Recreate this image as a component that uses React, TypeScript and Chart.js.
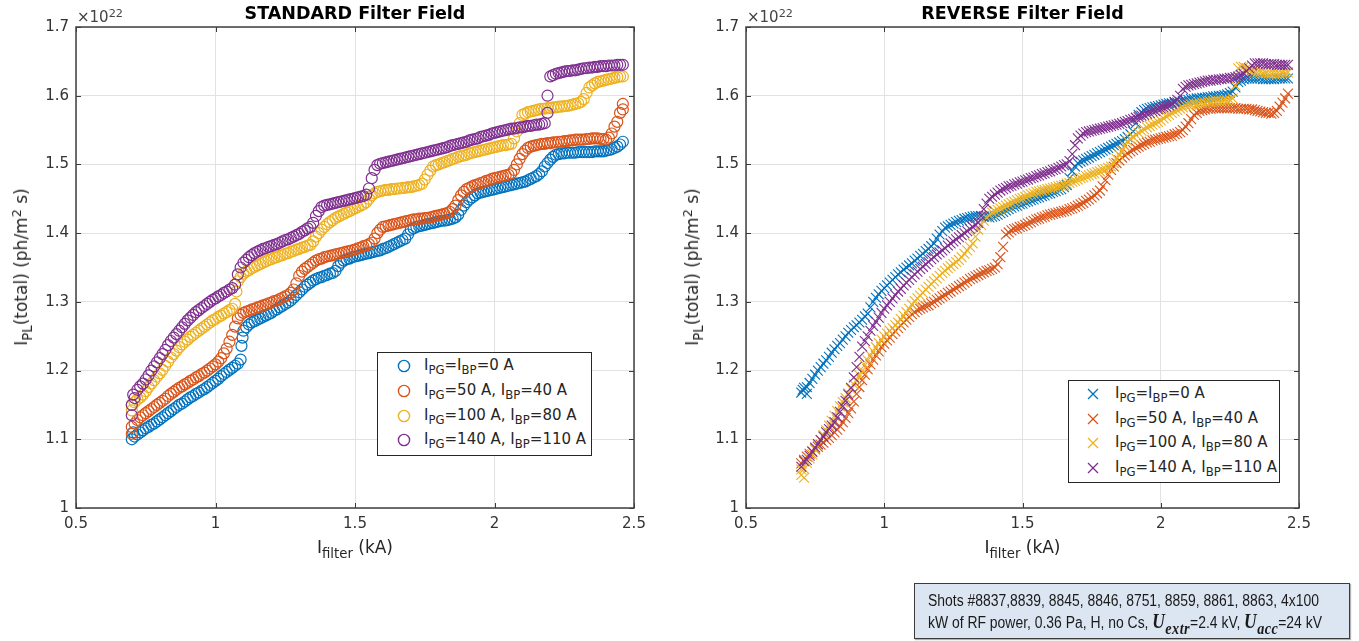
import React, { useEffect, useRef } from 'react';
import { Chart, registerables } from 'chart.js';

Chart.register(...registerables);

// ---------- shared x grid (filter current, kA) ----------
const xGrid = [
  0.70, 0.71, 0.72, 0.73, 0.74, 0.75, 0.76, 0.77, 0.78, 0.79,
  0.80, 0.81, 0.82, 0.83, 0.84, 0.85, 0.86, 0.87, 0.88, 0.89,
  0.90, 0.91, 0.92, 0.93, 0.94, 0.95, 0.96, 0.97, 0.98, 0.99,
  1.00, 1.01, 1.02, 1.03, 1.04, 1.05, 1.06, 1.07, 1.08, 1.09,
  1.10, 1.11, 1.12, 1.13, 1.14, 1.15, 1.16, 1.17, 1.18, 1.19,
  1.20, 1.21, 1.22, 1.23, 1.24, 1.25, 1.26, 1.27, 1.28, 1.29,
  1.30, 1.31, 1.32, 1.33, 1.34, 1.35, 1.36, 1.37, 1.38, 1.39,
  1.40, 1.41, 1.42, 1.43, 1.44, 1.45, 1.46, 1.47, 1.48, 1.49,
  1.50, 1.51, 1.52, 1.53, 1.54, 1.55, 1.56, 1.57, 1.58, 1.59,
  1.60, 1.61, 1.62, 1.63, 1.64, 1.65, 1.66, 1.67, 1.68, 1.69,
  1.70, 1.71, 1.72, 1.73, 1.74, 1.75, 1.76, 1.77, 1.78, 1.79,
  1.80, 1.81, 1.82, 1.83, 1.84, 1.85, 1.86, 1.87, 1.88, 1.89,
  1.90, 1.91, 1.92, 1.93, 1.94, 1.95, 1.96, 1.97, 1.98, 1.99,
  2.00, 2.01, 2.02, 2.03, 2.04, 2.05, 2.06, 2.07, 2.08, 2.09,
  2.10, 2.11, 2.12, 2.13, 2.14, 2.15, 2.16, 2.17, 2.18, 2.19,
  2.20, 2.21, 2.22, 2.23, 2.24, 2.25, 2.26, 2.27, 2.28, 2.29,
  2.30, 2.31, 2.32, 2.33, 2.34, 2.35, 2.36, 2.37, 2.38, 2.39,
  2.40, 2.41, 2.42, 2.43, 2.44, 2.45, 2.46,
];

// ---------- STANDARD filter field (x10^22 ph/m^2 s) ----------
const stdBlueY = [
  1.100, 1.104, 1.107, 1.110, 1.113, 1.116, 1.118, 1.121, 1.123, 1.126,
  1.129, 1.132, 1.135, 1.138, 1.141, 1.144, 1.147, 1.150, 1.152, 1.155,
  1.158, 1.161, 1.163, 1.166, 1.168, 1.171, 1.173, 1.176, 1.179, 1.182,
  1.185, 1.188, 1.192, 1.195, 1.198, 1.201, 1.204, 1.207, 1.210, 1.216,
  1.258, 1.263, 1.267, 1.270, 1.272, 1.274, 1.276, 1.278, 1.280, 1.282,
  1.284, 1.287, 1.289, 1.292, 1.294, 1.297, 1.299, 1.302, 1.306, 1.310,
  1.314, 1.318, 1.322, 1.325, 1.328, 1.331, 1.333, 1.335, 1.336, 1.338,
  1.339, 1.341, 1.342, 1.345, 1.352, 1.357, 1.360, 1.362, 1.363, 1.365,
  1.366, 1.367, 1.368, 1.369, 1.370, 1.371, 1.372, 1.373, 1.374, 1.375,
  1.377, 1.378, 1.380, 1.382, 1.384, 1.386, 1.388, 1.390, 1.392, 1.398,
  1.405, 1.407, 1.409, 1.410, 1.411, 1.412, 1.413, 1.414, 1.415, 1.416,
  1.417, 1.418, 1.418, 1.419, 1.420, 1.421, 1.423, 1.427, 1.434, 1.440,
  1.445, 1.449, 1.452, 1.455, 1.458, 1.459, 1.460, 1.461, 1.462, 1.463,
  1.464, 1.465, 1.466, 1.467, 1.468, 1.469, 1.470, 1.471, 1.472, 1.473,
  1.474, 1.475, 1.477, 1.479, 1.481, 1.483, 1.486, 1.490, 1.497, 1.502,
  1.507, 1.511, 1.514, 1.515, 1.516, 1.516, 1.517, 1.517, 1.517, 1.517,
  1.518, 1.518, 1.518, 1.518, 1.518, 1.518, 1.519, 1.519, 1.519, 1.519,
  1.520, 1.521, 1.522, 1.524, 1.526, 1.529, 1.533,
];
const stdBlueExtraX = [0.705, 1.093, 1.097];
const stdBlueExtraY = [1.110, 1.236, 1.248];

const stdOrangeY = [
  1.118, 1.123, 1.128, 1.132, 1.135, 1.138, 1.141, 1.144, 1.147, 1.150,
  1.153, 1.156, 1.159, 1.163, 1.166, 1.169, 1.172, 1.175, 1.177, 1.180,
  1.182, 1.185, 1.187, 1.190, 1.192, 1.195, 1.197, 1.200, 1.203, 1.206,
  1.209, 1.213, 1.218, 1.225, 1.232, 1.242, 1.252, 1.264, 1.276, 1.281,
  1.284, 1.286, 1.287, 1.289, 1.290, 1.292, 1.293, 1.295, 1.296, 1.298,
  1.299, 1.301, 1.302, 1.304, 1.306, 1.308, 1.310, 1.313, 1.318, 1.327,
  1.338, 1.344, 1.348, 1.351, 1.354, 1.357, 1.360, 1.362, 1.363, 1.365,
  1.366, 1.367, 1.368, 1.369, 1.370, 1.371, 1.372, 1.373, 1.374, 1.375,
  1.376, 1.378, 1.379, 1.381, 1.382, 1.384, 1.386, 1.392, 1.400, 1.405,
  1.409, 1.410, 1.411, 1.412, 1.413, 1.414, 1.415, 1.416, 1.417, 1.418,
  1.419, 1.420, 1.420, 1.421, 1.421, 1.422, 1.422, 1.423, 1.424, 1.425,
  1.426, 1.427, 1.428, 1.429, 1.431, 1.435, 1.440, 1.448, 1.455, 1.460,
  1.464, 1.466, 1.468, 1.470, 1.471, 1.473, 1.474, 1.476, 1.477, 1.479,
  1.480, 1.481, 1.482, 1.483, 1.484, 1.485, 1.487, 1.492, 1.500, 1.508,
  1.515, 1.520, 1.524, 1.526, 1.527, 1.528, 1.529, 1.530, 1.530, 1.531,
  1.531, 1.532, 1.532, 1.533, 1.533, 1.534, 1.534, 1.535, 1.535, 1.536,
  1.536, 1.536, 1.536, 1.537, 1.537, 1.538, 1.538, 1.538, 1.537, 1.537,
  1.536, 1.539, 1.545, 1.555, 1.562, 1.575, 1.588,
];
const stdOrangeExtraX = [0.70, 2.46];
const stdOrangeExtraY = [1.108, 1.580];

const stdYellowY = [
  1.150, 1.154, 1.158, 1.161, 1.165, 1.170, 1.176, 1.181, 1.186, 1.191,
  1.196, 1.201, 1.207, 1.213, 1.219, 1.224, 1.229, 1.234, 1.238, 1.242,
  1.245, 1.249, 1.252, 1.255, 1.258, 1.261, 1.264, 1.267, 1.270, 1.273,
  1.275, 1.278, 1.280, 1.283, 1.285, 1.288, 1.290, 1.297, 1.330, 1.336,
  1.341, 1.344, 1.346, 1.349, 1.351, 1.353, 1.355, 1.357, 1.359, 1.361,
  1.362, 1.364, 1.365, 1.367, 1.368, 1.370, 1.371, 1.373, 1.374, 1.376,
  1.377, 1.379, 1.380, 1.382, 1.383, 1.388, 1.395, 1.400, 1.405, 1.409,
  1.413, 1.416, 1.419, 1.422, 1.424, 1.426, 1.428, 1.430, 1.432, 1.434,
  1.436, 1.438, 1.440, 1.442, 1.445, 1.450, 1.455, 1.458, 1.460, 1.461,
  1.462, 1.463, 1.463, 1.464, 1.464, 1.465, 1.465, 1.466, 1.466, 1.467,
  1.467, 1.468, 1.469, 1.470, 1.472, 1.478, 1.485, 1.491, 1.497, 1.499,
  1.500, 1.502, 1.503, 1.505, 1.506, 1.508, 1.509, 1.511, 1.512, 1.513,
  1.514, 1.516, 1.517, 1.518, 1.519, 1.520, 1.521, 1.522, 1.523, 1.524,
  1.525, 1.526, 1.527, 1.528, 1.528, 1.529, 1.530, 1.538, 1.548, 1.560,
  1.572, 1.574, 1.576, 1.577, 1.578, 1.579, 1.580, 1.581, 1.581, 1.582,
  1.582, 1.583, 1.583, 1.584, 1.584, 1.585, 1.585, 1.586, 1.587, 1.588,
  1.589, 1.591, 1.595, 1.604, 1.612, 1.615, 1.618, 1.620, 1.621, 1.622,
  1.623, 1.624, 1.625, 1.626, 1.627, 1.628, 1.628,
];
const stdYellowExtraX = [0.70, 1.075];
const stdYellowExtraY = [1.142, 1.315];

const stdPurpleY = [
  1.135, 1.160, 1.172, 1.177, 1.181, 1.187, 1.193, 1.200, 1.206, 1.212,
  1.218, 1.224, 1.230, 1.237, 1.243, 1.248, 1.253, 1.258, 1.263, 1.268,
  1.273, 1.277, 1.281, 1.285, 1.288, 1.291, 1.294, 1.297, 1.300, 1.303,
  1.305, 1.308, 1.310, 1.313, 1.315, 1.318, 1.320, 1.325, 1.340, 1.350,
  1.357, 1.361, 1.365, 1.368, 1.371, 1.373, 1.375, 1.377, 1.378, 1.380,
  1.381, 1.383, 1.384, 1.386, 1.388, 1.390, 1.391, 1.393, 1.395, 1.397,
  1.399, 1.402, 1.404, 1.407, 1.409, 1.415, 1.425, 1.432, 1.438, 1.440,
  1.441, 1.442, 1.443, 1.444, 1.445, 1.446, 1.447, 1.448, 1.449, 1.450,
  1.451, 1.452, 1.453, 1.454, 1.456, 1.465, 1.480, 1.492, 1.499, 1.501,
  1.502, 1.503, 1.504, 1.505, 1.506, 1.507, 1.508, 1.509, 1.510, 1.511,
  1.512, 1.513, 1.514, 1.515, 1.516, 1.517, 1.518, 1.519, 1.520, 1.521,
  1.522, 1.523, 1.524, 1.525, 1.527, 1.528, 1.529, 1.530, 1.531, 1.532,
  1.533, 1.535, 1.536, 1.537, 1.538, 1.540, 1.541, 1.542, 1.543, 1.545,
  1.546, 1.547, 1.548, 1.549, 1.550, 1.551, 1.552, 1.552, 1.553, 1.554,
  1.554, 1.555, 1.556, 1.556, 1.557, 1.558, 1.558, 1.559, 1.560, 1.575,
  1.628, 1.630, 1.632, 1.633, 1.634, 1.635, 1.636, 1.636, 1.637, 1.637,
  1.638, 1.639, 1.640, 1.640, 1.641, 1.641, 1.642, 1.642, 1.643, 1.643,
  1.643, 1.644, 1.644, 1.644, 1.645, 1.645, 1.645,
];
const stdPurpleExtraX = [0.70, 0.705, 2.19];
const stdPurpleExtraY = [1.150, 1.165, 1.600];

// ---------- REVERSE filter field ----------
const revBlueY = [
  1.168, 1.175, 1.176, 1.182, 1.188, 1.194, 1.200, 1.205, 1.210, 1.215,
  1.220, 1.226, 1.231, 1.236, 1.240, 1.245, 1.250, 1.255, 1.259, 1.263,
  1.266, 1.270, 1.274, 1.279, 1.283, 1.292, 1.300, 1.306, 1.311, 1.316,
  1.320, 1.324, 1.328, 1.332, 1.336, 1.340, 1.343, 1.347, 1.350, 1.353,
  1.356, 1.360, 1.363, 1.367, 1.370, 1.374, 1.377, 1.381, 1.385, 1.392,
  1.398, 1.403, 1.408, 1.410, 1.412, 1.414, 1.416, 1.418, 1.419, 1.421,
  1.422, 1.423, 1.424, 1.425, 1.425, 1.425, 1.424, 1.424, 1.423, 1.424,
  1.425, 1.427, 1.429, 1.431, 1.433, 1.435, 1.437, 1.439, 1.440, 1.442,
  1.443, 1.445, 1.446, 1.448, 1.449, 1.451, 1.452, 1.454, 1.455, 1.457,
  1.458, 1.460, 1.461, 1.463, 1.464, 1.467, 1.470, 1.480, 1.490, 1.497,
  1.502, 1.504, 1.506, 1.508, 1.510, 1.512, 1.514, 1.516, 1.518, 1.520,
  1.522, 1.524, 1.526, 1.528, 1.530, 1.532, 1.534, 1.537, 1.540, 1.544,
  1.548, 1.560, 1.572, 1.576, 1.579, 1.581, 1.582, 1.583, 1.584, 1.585,
  1.586, 1.587, 1.588, 1.589, 1.589, 1.590, 1.590, 1.591, 1.592, 1.593,
  1.594, 1.595, 1.595, 1.596, 1.596, 1.597, 1.597, 1.598, 1.598, 1.599,
  1.599, 1.600, 1.600, 1.601, 1.602, 1.604, 1.606, 1.612, 1.620, 1.622,
  1.624, 1.625, 1.625, 1.625, 1.625, 1.625, 1.625, 1.624, 1.624, 1.624,
  1.624, 1.624, 1.625, 1.625, 1.625, 1.625, 1.625,
];
const revBlueExtraX = [0.705, 0.72];
const revBlueExtraY = [1.172, 1.166];

const revOrangeY = [
  1.065, 1.070, 1.075, 1.079, 1.082, 1.086, 1.089, 1.092, 1.095, 1.099,
  1.102, 1.106, 1.110, 1.114, 1.119, 1.125, 1.131, 1.138, 1.145, 1.155,
  1.166, 1.176, 1.186, 1.194, 1.202, 1.209, 1.216, 1.222, 1.228, 1.234,
  1.239, 1.244, 1.248, 1.253, 1.257, 1.262, 1.266, 1.270, 1.274, 1.278,
  1.282, 1.285, 1.288, 1.290, 1.292, 1.294, 1.295, 1.298, 1.300, 1.303,
  1.305, 1.308, 1.310, 1.313, 1.315, 1.318, 1.320, 1.323, 1.325, 1.328,
  1.330, 1.333, 1.335, 1.337, 1.339, 1.341, 1.343, 1.345, 1.346, 1.348,
  1.350, 1.355, 1.365, 1.380, 1.398, 1.401, 1.404, 1.406, 1.407, 1.409,
  1.410, 1.412, 1.414, 1.416, 1.418, 1.420, 1.421, 1.423, 1.424, 1.426,
  1.427, 1.428, 1.429, 1.430, 1.431, 1.432, 1.433, 1.435, 1.436, 1.438,
  1.440, 1.442, 1.444, 1.447, 1.449, 1.452, 1.455, 1.458, 1.462, 1.468,
  1.477, 1.485, 1.492, 1.497, 1.502, 1.506, 1.510, 1.513, 1.516, 1.519,
  1.521, 1.524, 1.526, 1.528, 1.530, 1.532, 1.533, 1.535, 1.536, 1.537,
  1.538, 1.539, 1.540, 1.541, 1.542, 1.544, 1.545, 1.547, 1.550, 1.555,
  1.560, 1.566, 1.572, 1.575, 1.578, 1.579, 1.580, 1.581, 1.581, 1.582,
  1.582, 1.582, 1.582, 1.582, 1.582, 1.582, 1.582, 1.582, 1.581, 1.581,
  1.581, 1.581, 1.580, 1.580, 1.579, 1.578, 1.577, 1.576, 1.575, 1.575,
  1.574, 1.575, 1.578, 1.584, 1.590, 1.596, 1.603,
];

const revYellowY = [
  1.048, 1.057, 1.066, 1.072, 1.078, 1.085, 1.091, 1.099, 1.106, 1.113,
  1.120, 1.127, 1.134, 1.141, 1.148, 1.154, 1.160, 1.167, 1.173, 1.180,
  1.186, 1.193, 1.200, 1.208, 1.215, 1.222, 1.228, 1.234, 1.240, 1.245,
  1.250, 1.254, 1.258, 1.262, 1.266, 1.270, 1.275, 1.280, 1.285, 1.290,
  1.296, 1.301, 1.305, 1.309, 1.313, 1.318, 1.322, 1.326, 1.330, 1.334,
  1.338, 1.342, 1.345, 1.349, 1.352, 1.355, 1.358, 1.361, 1.365, 1.370,
  1.375, 1.380, 1.385, 1.395, 1.405, 1.412, 1.418, 1.423, 1.427, 1.430,
  1.432, 1.434, 1.436, 1.438, 1.440, 1.442, 1.444, 1.446, 1.448, 1.450,
  1.451, 1.453, 1.455, 1.457, 1.458, 1.460, 1.461, 1.462, 1.463, 1.464,
  1.465, 1.466, 1.467, 1.468, 1.469, 1.470, 1.472, 1.473, 1.475, 1.476,
  1.478, 1.480, 1.481, 1.483, 1.484, 1.486, 1.487, 1.489, 1.490, 1.492,
  1.493, 1.495, 1.497, 1.502, 1.508, 1.514, 1.520, 1.527, 1.534, 1.537,
  1.540, 1.543, 1.546, 1.549, 1.551, 1.554, 1.556, 1.558, 1.560, 1.562,
  1.564, 1.567, 1.570, 1.572, 1.575, 1.577, 1.579, 1.581, 1.583, 1.585,
  1.586, 1.587, 1.588, 1.588, 1.589, 1.590, 1.590, 1.591, 1.591, 1.592,
  1.592, 1.592, 1.592, 1.593, 1.593, 1.594, 1.596, 1.615, 1.640, 1.642,
  1.642, 1.640, 1.638, 1.636, 1.635, 1.634, 1.634, 1.633, 1.633, 1.632,
  1.632, 1.632, 1.632, 1.632, 1.633, 1.633, 1.634,
];
const revYellowExtraX = [0.70, 0.71];
const revYellowExtraY = [1.056, 1.044];

const revPurpleY = [
  1.060, 1.068, 1.070, 1.076, 1.082, 1.088, 1.093, 1.099, 1.104, 1.110,
  1.115, 1.120, 1.125, 1.132, 1.140, 1.148, 1.156, 1.165, 1.175, 1.190,
  1.205, 1.220, 1.235, 1.243, 1.250, 1.258, 1.265, 1.271, 1.277, 1.284,
  1.290, 1.295, 1.300, 1.305, 1.310, 1.315, 1.319, 1.324, 1.328, 1.332,
  1.336, 1.340, 1.344, 1.348, 1.351, 1.355, 1.358, 1.362, 1.365, 1.369,
  1.372, 1.375, 1.378, 1.382, 1.385, 1.388, 1.391, 1.394, 1.397, 1.400,
  1.403, 1.406, 1.409, 1.412, 1.415, 1.425, 1.435, 1.443, 1.450, 1.453,
  1.456, 1.459, 1.462, 1.464, 1.466, 1.468, 1.469, 1.471, 1.472, 1.474,
  1.475, 1.477, 1.478, 1.480, 1.481, 1.483, 1.484, 1.486, 1.487, 1.489,
  1.490, 1.492, 1.493, 1.495, 1.497, 1.499, 1.500, 1.505, 1.515, 1.528,
  1.538, 1.542, 1.545, 1.547, 1.548, 1.549, 1.550, 1.551, 1.552, 1.553,
  1.554, 1.555, 1.556, 1.557, 1.558, 1.559, 1.560, 1.562, 1.563, 1.565,
  1.566, 1.568, 1.569, 1.571, 1.572, 1.574, 1.575, 1.577, 1.578, 1.580,
  1.581, 1.583, 1.584, 1.586, 1.588, 1.591, 1.594, 1.600, 1.610, 1.613,
  1.615, 1.616, 1.617, 1.618, 1.619, 1.620, 1.621, 1.622, 1.622, 1.623,
  1.623, 1.624, 1.624, 1.625, 1.625, 1.626, 1.626, 1.627, 1.628, 1.630,
  1.632, 1.636, 1.640, 1.644, 1.647, 1.647, 1.647, 1.647, 1.646, 1.646,
  1.646, 1.646, 1.645, 1.645, 1.645, 1.645, 1.645,
];

const noExtra: number[] = [];

// ---------- axes ----------
const xTickValues = [0.5, 1, 1.5, 2, 2.5];
const yTickValues = [1, 1.1, 1.2, 1.3, 1.4, 1.5, 1.6, 1.7];

const COLORS = ['#0072BD', '#D95319', '#EDB120', '#7E2F8E'];

function pts(ys: number[], exX: number[], exY: number[]) {
  const out = xGrid.map((x, i) => ({ x, y: ys[i] }));
  exX.forEach((x, i) => out.push({ x, y: exY[i] }));
  return out;
}

const stdSeries = [
  pts(stdBlueY, stdBlueExtraX, stdBlueExtraY),
  pts(stdOrangeY, stdOrangeExtraX, stdOrangeExtraY),
  pts(stdYellowY, stdYellowExtraX, stdYellowExtraY),
  pts(stdPurpleY, stdPurpleExtraX, stdPurpleExtraY),
];
const revSeries = [
  pts(revBlueY, revBlueExtraX, revBlueExtraY),
  pts(revOrangeY, noExtra, noExtra),
  pts(revYellowY, revYellowExtraX, revYellowExtraY),
  pts(revPurpleY, noExtra, noExtra),
];

const fmt = (v: number | string) => String(parseFloat(Number(v).toFixed(2)));

const framePlugin = {
  id: 'matlabFrame',
  beforeDatasetsDraw(chart: any) {
    const { ctx, chartArea: a, scales } = chart;
    ctx.save();
    ctx.strokeStyle = '#3a3a3a';
    ctx.lineWidth = 1;
    const L = 5;
    ctx.beginPath();
    scales.x.ticks.forEach((t: any) => {
      const px = Math.round(scales.x.getPixelForValue(t.value)) + 0.5;
      ctx.moveTo(px, a.bottom); ctx.lineTo(px, a.bottom - L);
      ctx.moveTo(px, a.top); ctx.lineTo(px, a.top + L);
    });
    scales.y.ticks.forEach((t: any) => {
      const py = Math.round(scales.y.getPixelForValue(t.value)) + 0.5;
      ctx.moveTo(a.left, py); ctx.lineTo(a.left + L, py);
      ctx.moveTo(a.right, py); ctx.lineTo(a.right - L, py);
    });
    ctx.stroke();
    ctx.lineWidth = 1.5;
    ctx.strokeStyle = '#404040';
    ctx.strokeRect(a.left, a.top, a.right - a.left, a.bottom - a.top);
    ctx.restore();
  },
};

const FONT = "'DejaVu Sans', 'Noto Sans', sans-serif";

function Panel(props: {
  left: number; width: number; axisLeft: number; axisRight: number;
  series: { x: number; y: number }[][]; marker: 'circle' | 'crossRot';
}) {
  const ref = useRef<HTMLCanvasElement>(null);
  useEffect(() => {
    const isCircle = props.marker === 'circle';
    const chart = new Chart(ref.current as HTMLCanvasElement, {
      type: 'scatter',
      data: {
        datasets: props.series.map((d, i) => ({
          data: d,
          order: 3 - i,
          showLine: false,
          pointStyle: props.marker,
          pointRadius: isCircle ? 5.5 : 7,
          pointBorderWidth: isCircle ? 1.2 : 1.1,
          pointBorderColor: COLORS[i],
          pointBackgroundColor: 'rgba(0,0,0,0)',
          borderColor: COLORS[i],
          backgroundColor: 'rgba(0,0,0,0)',
        })),
      },
      options: {
        responsive: false,
        animation: false,
        events: [],
        layout: { padding: { left: 0, right: props.width - props.axisRight, top: 27, bottom: 93 } },
        plugins: { legend: { display: false }, tooltip: { enabled: false }, title: { display: false } },
        scales: {
          x: {
            type: 'linear', min: 0.5, max: 2.5,
            afterBuildTicks: (s: any) => { s.ticks = xTickValues.map((v) => ({ value: v })); },
            ticks: { padding: 7, color: '#333', font: { family: FONT, size: 15 }, maxRotation: 0, callback: (v: any) => fmt(v) },
            grid: { color: '#e2e2e2', drawTicks: false, lineWidth: 1 },
            border: { display: false },
            afterFit: (s: any) => { s.height = 40; },
          },
          y: {
            type: 'linear', min: 1, max: 1.7,
            afterBuildTicks: (s: any) => { s.ticks = yTickValues.map((v) => ({ value: v })); },
            ticks: { padding: 7, color: '#333', font: { family: FONT, size: 15 }, callback: (v: any) => fmt(v) },
            grid: { color: '#e2e2e2', drawTicks: false, lineWidth: 1 },
            border: { display: false },
            afterFit: (s: any) => { s.width = props.axisLeft; },
          },
        },
      } as any,
      plugins: [framePlugin],
    });
    return () => chart.destroy();
  }, []);
  return (
    <canvas
      ref={ref}
      width={props.width}
      height={641}
      style={{ position: 'absolute', left: props.left, top: 0, width: props.width, height: 641, display: 'block' }}
    />
  );
}

const Sub = ({ children, size = '0.78em' }: { children: React.ReactNode; size?: string }) => (
  <span style={{ fontSize: size, position: 'relative', top: '0.38em' }}>{children}</span>
);
const Sup = ({ children }: { children: React.ReactNode }) => (
  <span style={{ fontSize: '0.75em', position: 'relative', top: '-0.45em' }}>{children}</span>
);

const legendLabels = [
  <>I<Sub>PG</Sub>=I<Sub>BP</Sub>=0 A</>,
  <>I<Sub>PG</Sub>=50 A, I<Sub>BP</Sub>=40 A</>,
  <>I<Sub>PG</Sub>=100 A, I<Sub>BP</Sub>=80 A</>,
  <>I<Sub>PG</Sub>=140 A, I<Sub>BP</Sub>=110 A</>,
];

function Marker({ kind, color }: { kind: 'circle' | 'cross'; color: string }) {
  return (
    <svg width={14} height={14} style={{ display: 'block' }}>
      {kind === 'circle' ? (
        <circle cx={7} cy={7} r={5.6} fill="none" stroke={color} strokeWidth={1.4} />
      ) : (
        <g stroke={color} strokeWidth={1.3}>
          <line x1={2} y1={2} x2={12} y2={12} />
          <line x1={12} y1={2} x2={2} y2={12} />
        </g>
      )}
    </svg>
  );
}

function Legend(props: { left: number; top: number; width: number; height: number; rows: number[]; markerX: number; textX: number; kind: 'circle' | 'cross' }) {
  return (
    <div style={{ position: 'absolute', left: props.left, top: props.top, width: props.width, height: props.height, boxSizing: 'border-box', border: '1px solid #262626', background: '#fff' }}>
      {legendLabels.map((lab, i) => (
        <React.Fragment key={i}>
          <div style={{ position: 'absolute', left: props.markerX - 7, top: props.rows[i] - 7 }}>
            <Marker kind={props.kind} color={COLORS[i]} />
          </div>
          <div style={{ position: 'absolute', left: props.textX, top: props.rows[i] - 11, height: 20, lineHeight: '20px', fontFamily: FONT, fontSize: 15, color: '#262626', whiteSpace: 'nowrap' }}>
            {lab}
          </div>
        </React.Fragment>
      ))}
    </div>
  );
}

function AxisTexts(props: { axisLeft: number; axisRight: number; title: string; yLabelX: number }) {
  const cx = (props.axisLeft + props.axisRight) / 2;
  return (
    <>
      <div style={{ position: 'absolute', left: cx - 200, width: 400, top: 2, textAlign: 'center', fontFamily: FONT, fontWeight: 'bold', fontSize: 17.5, lineHeight: '22px', color: '#000' }}>
        {props.title}
      </div>
      <div style={{ position: 'absolute', left: props.axisLeft + 1, top: 8, fontFamily: FONT, fontSize: 15, lineHeight: '18px', color: '#444', whiteSpace: 'nowrap' }}>
        ×10<Sup>22</Sup>
      </div>
      <div style={{ position: 'absolute', left: props.yLabelX, top: 267, transform: 'translate(-50%, -50%) rotate(-90deg)', fontFamily: FONT, fontSize: 17, lineHeight: '20px', color: '#262626', whiteSpace: 'nowrap' }}>
        I<Sub>PL</Sub>(total) (ph/m<Sup>2</Sup> s)
      </div>
      <div style={{ position: 'absolute', left: cx, top: 548, transform: 'translate(-50%, -50%)', fontFamily: FONT, fontSize: 17, lineHeight: '20px', color: '#262626', whiteSpace: 'nowrap' }}>
        I<Sub>filter</Sub> (kA)
      </div>
    </>
  );
}

export default function App() {
  const mathStyle: React.CSSProperties = { fontFamily: "'Liberation Serif', 'DejaVu Serif', serif", fontStyle: 'italic', fontWeight: 'bold', fontSize: 20, letterSpacing: '0.5px' };
  const lineStyle: React.CSSProperties = { display: 'inline-block', transform: 'scaleX(0.87)', transformOrigin: '0 50%', whiteSpace: 'nowrap' };
  return (
    <div style={{ position: 'fixed', left: 0, top: 0, width: 1359, height: 641, background: '#fff', overflow: 'hidden' }}>
      <Panel left={0} width={680} axisLeft={76} axisRight={634} series={stdSeries} marker="circle" />
      <Panel left={680} width={679} axisLeft={66} axisRight={619} series={revSeries} marker="crossRot" />
      <AxisTexts axisLeft={76} axisRight={634} title="STANDARD Filter Field" yLabelX={22} />
      <AxisTexts axisLeft={746} axisRight={1299} title="REVERSE Filter Field" yLabelX={693} />
      <Legend left={377} top={352} width={215} height={104} rows={[13, 38, 63, 87]} markerX={26} textX={46} kind="circle" />
      <Legend left={1068} top={380} width={212} height={103} rows={[13, 38, 62, 87]} markerX={24} textX={46} kind="cross" />
      <div style={{ position: 'absolute', left: 914, top: 583, width: 436, height: 56, boxSizing: 'border-box', background: '#dce6f2', border: '1.5px solid #3c3c3c', boxShadow: '1px 1px 1px rgba(0,0,0,0.3)', padding: '7px 0 0 13px', fontFamily: "'Liberation Sans', Arial, sans-serif", fontSize: 16, lineHeight: '20px', color: '#1a1a1a', whiteSpace: 'nowrap' }}>
        <div><span style={lineStyle}>Shots #8837,8839, 8845, 8846, 8751, 8859, 8861, 8863, 4x100</span></div>
        <div><span style={lineStyle}>kW of RF power, 0.36 Pa, H, no Cs, <span style={mathStyle}>U<Sub size="0.82em">extr</Sub></span>=2.4 kV, <span style={mathStyle}>U<Sub size="0.82em">acc</Sub></span>=24 kV</span></div>
      </div>
    </div>
  );
}
